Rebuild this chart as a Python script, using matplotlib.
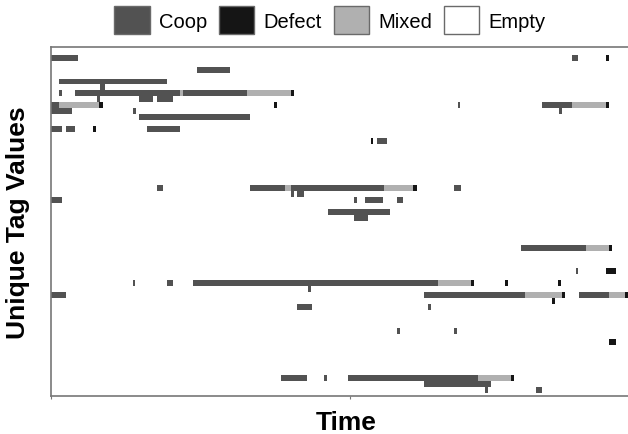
import matplotlib.pyplot as plt
from matplotlib.patches import Patch

plt.rcParams['font.family'] = ['Liberation Sans', 'DejaVu Sans']

# states of a tag over time
state_names = ['Coop', 'Defect', 'Mixed', 'Empty']
state_colors = {'Coop': '#525252', 'Defect': '#151515', 'Mixed': '#b0b0b0', 'Empty': '#ffffff'}

# one entry per segment: tag row, start time, end time, state
seg_row = [1, 1, 1,
           3,
           5,
           6,
           7, 7, 7, 7, 7, 7,
           8, 8, 8,
           9, 9, 9, 9, 9, 9, 9, 9,
           10, 10, 10,
           11,
           13, 13, 13, 13,
           15, 15,
           23, 23, 23, 23, 23, 23, 23,
           24, 24,
           25, 25, 25, 25,
           27,
           28,
           33, 33, 33,
           37, 37,
           39, 39, 39, 39, 39, 39, 39,
           40,
           41, 41, 41, 41, 41, 41, 41,
           42,
           43, 43,
           47, 47,
           49,
           55, 55, 55, 55, 55,
           56,
           57, 57]
seg_start = [0, 521, 555,
             146,
             8,
             49,
             8, 24, 129, 132, 196, 240,
             46, 88, 106,
             0, 8, 48, 223, 407, 491, 521, 555,
             0, 82, 508,
             88,
             0, 15, 42, 96,
             320, 326,
             106, 199, 234, 240, 333, 362, 403,
             240, 246,
             0, 303, 314, 346,
             277,
             303,
             470, 535, 558,
             525, 555,
             82, 116, 142, 387, 420, 454, 507,
             257,
             0, 373, 474, 511, 528, 558, 574,
             501,
             246, 377,
             346, 403,
             558,
             230, 273, 297, 427, 460,
             373,
             434, 485]
seg_end = [27, 527, 558,
           179,
           116,
           54,
           11, 129, 132, 196, 240, 243,
           49, 102, 122,
           8, 48, 52, 226, 409, 521, 555, 558,
           21, 85, 511,
           199,
           11, 24, 45, 129,
           322, 336,
           112, 234, 240, 333, 362, 366, 410,
           243, 253,
           11, 306, 332, 352,
           339,
           317,
           535, 558, 561,
           527, 565,
           84, 122, 387, 420, 423, 457, 510,
           260,
           15, 474, 511, 514, 558, 574, 577,
           504,
           261, 380,
           349, 406,
           565,
           256, 276, 427, 460, 463,
           440,
           437, 491]
seg_state = ['Coop', 'Coop', 'Defect',
             'Coop',
             'Coop',
             'Coop',
             'Coop', 'Coop', 'Mixed', 'Coop', 'Mixed', 'Defect',
             'Coop', 'Coop', 'Coop',
             'Coop', 'Mixed', 'Defect', 'Defect', 'Coop', 'Coop', 'Mixed', 'Defect',
             'Coop', 'Coop', 'Coop',
             'Coop',
             'Coop', 'Coop', 'Defect', 'Coop',
             'Defect', 'Coop',
             'Coop', 'Coop', 'Mixed', 'Coop', 'Mixed', 'Defect', 'Coop',
             'Coop', 'Coop',
             'Coop', 'Coop', 'Coop', 'Coop',
             'Coop',
             'Coop',
             'Coop', 'Mixed', 'Defect',
             'Coop', 'Defect',
             'Coop', 'Coop', 'Coop', 'Mixed', 'Defect', 'Defect', 'Defect',
             'Coop',
             'Coop', 'Coop', 'Mixed', 'Defect', 'Coop', 'Mixed', 'Defect',
             'Defect',
             'Coop', 'Coop',
             'Coop', 'Coop',
             'Defect',
             'Coop', 'Coop', 'Coop', 'Mixed', 'Defect',
             'Coop',
             'Coop', 'Coop']

fig = plt.figure(figsize=(6.28, 4.35), dpi=100)
ax = fig.add_axes([51 / 628, 38 / 435, 577 / 628, 349 / 435])

widths = [e - s for s, e in zip(seg_start, seg_end)]
colors = [state_colors[s] for s in seg_state]
ax.barh(seg_row, widths, left=seg_start, height=1.0, align='edge',
        color=colors, linewidth=0)

ax.set_xlim(0, 577)
ax.set_ylim(58.53, -0.32)

# only the small marks along the time axis, no labels
ax.set_xticks([0, 299])
ax.set_xticklabels([])
ax.set_yticks([])
ax.tick_params(axis='x', length=2, width=0.8, color='#777777')

for side in ['left', 'top', 'bottom']:
    ax.spines[side].set_color('#777777')
    ax.spines[side].set_linewidth(1.2)
ax.spines['right'].set_visible(False)

ax.set_xlabel('Time', fontsize=19, fontweight='bold')
ax.xaxis.set_label_coords(0.511, -0.04)
ax.set_ylabel('Unique Tag Values', fontsize=19, fontweight='bold')
ax.yaxis.set_label_coords(-0.036, 0.5)

handles = [Patch(facecolor=state_colors[n], edgecolor='#6a6a6a', linewidth=1) for n in state_names]
fig.legend(handles, state_names, loc='center', bbox_to_anchor=(330 / 628, 1 - 21 / 435),
           ncol=4, frameon=False, fontsize=14.5, handlelength=1.75, handleheight=1.75,
           handletextpad=0.45, columnspacing=0.6, borderpad=0)

fig.savefig('out.png', dpi=100)
